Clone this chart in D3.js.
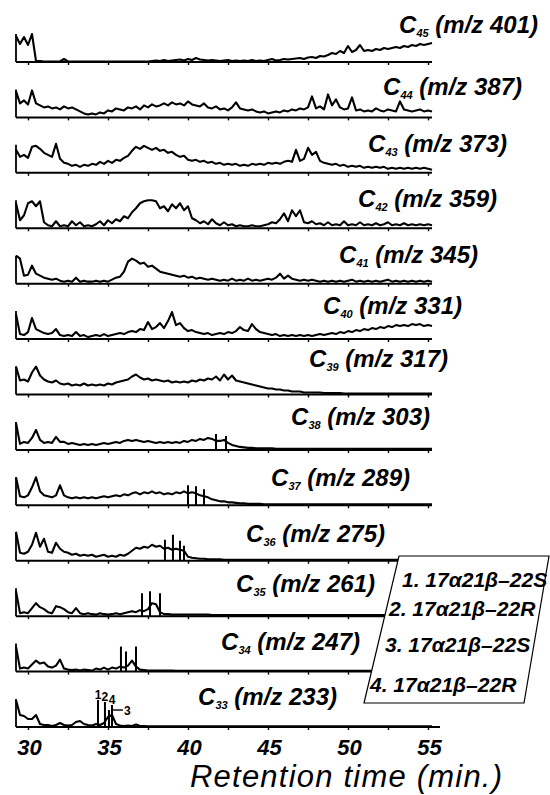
<!DOCTYPE html>
<html>
<head>
<meta charset="utf-8">
<script src="https://cdn.jsdelivr.net/npm/d3@7/dist/d3.min.js"></script>
<style>
  body { margin: 0; background: #fff; }
  text { font-family: "Liberation Sans", Arial, Helvetica, sans-serif; fill: #000; }
</style>
</head>
<body>
<script>
// Panels, top to bottom
var carbons = [45, 44, 43, 42, 41, 40, 39, 38, 37, 36, 35, 34, 33];
var mzValues = [401, 387, 373, 359, 345, 331, 317, 303, 289, 275, 261, 247, 233];

// Sampling grid of the traces (min)
var tStart = 29.25;
var tStep = 0.25;

// Tick values / labels of the retention time axis
var tickValues = [30, 32.5, 35, 37.5, 40, 42.5, 45, 47.5, 50, 52.5, 55];
var tickLabels = [30, 35, 40, 45, 50, 55];

// Intensity (relative units, 0-30)
var c45 = [26,18,25,17,28,1,1,0.5,0.5,0.5,0.5,0.5,3,0.5,0.5,0.5,0.5,0.5,0.5,0.5,
  0.5,0.5,0.5,0.5,0.5,0.5,0.5,0.5,0.5,0.5,0.5,0.5,0.5,0.5,1,1.5,1,2,1,1.5,
  2,2.5,1.5,3,2,4,2.5,2,1.5,2,1.5,1,1.5,2,1,1.5,1,1.5,1,2,
  1,1.5,1,2,3,1.5,2,3,2.5,3,3.5,4,3,4.5,5,4,6,5.5,7,9,
  8,11,9,16,10,12,17,11,12,11,13,12,14,13,14,15,14,16,15,17,
  16,18,17,18,19];
var c44 = [26,14,17,13,27,14,12,10,11,9,10,8,11,9,10,8,6,4,3,4,
  3,5,4,7,6,9,8,7,10,9,11,8,12,10,13,11,12,14,12,15,
  13,14,12,16,13,12,11,14,10,9,11,8,9,7,10,15,9,8,7,8,
  6,5,6,4,5,6,5,7,6,8,7,9,8,10,21,9,11,8,23,12,
  18,10,8,9,20,7,8,6,7,6,9,7,6,8,7,6,16,8,7,6,
  7,8,6,7,6];
var c43 = [23,16,18,15,26,27,24,20,18,16,29,14,10,9,7,8,6,8,7,9,
  8,11,9,12,10,13,12,15,17,22,26,24,27,25,23,25,22,23,20,21,
  18,16,17,13,12,13,11,12,10,11,9,10,8,9,8,9,7,8,7,9,
  8,9,8,10,9,10,9,11,12,11,23,12,14,25,18,21,12,10,9,8,
  9,7,8,6,7,6,7,5,6,5,6,5,6,4,5,4,5,4,5,4,
  5,4,5,4,3];
var c42 = [25,8,13,25,27,22,27,6,3,2,7,2,3,2,7,3,6,2,3,2,
  4,7,3,8,5,9,7,12,10,16,20,25,27,28,28,27,20,22,17,24,
  20,25,18,22,10,8,5,7,4,9,5,3,6,3,4,2,3,2,2,3,
  2,2,3,4,6,5,9,15,7,18,12,18,6,5,7,4,5,3,6,3,
  4,3,7,3,4,3,6,3,4,3,5,3,4,6,3,4,3,5,3,4,
  3,4,3,4,3];
var c41 = [28,25,8,9,18,10,8,6,5,4,5,3,2,3,2,6,2,3,2,2,
  3,2,3,2,4,6,7,12,22,25,23,20,21,17,18,15,12,11,10,9,
  8,7,8,6,7,5,6,5,4,5,4,3,4,3,5,3,4,3,5,3,
  4,3,4,5,4,6,10,5,8,5,4,3,4,3,4,3,2,3,2,3,
  2,3,2,3,4,2,3,2,3,2,3,2,3,4,2,3,2,3,2,3,
  2,3,2,3,2];
var c40 = [25,5,4,7,21,10,8,6,5,6,10,4,3,4,3,7,3,4,2,3,
  4,3,5,3,4,5,6,5,7,8,7,10,9,17,10,12,16,11,18,27,
  14,16,11,8,9,7,6,5,6,4,5,6,5,7,6,8,12,9,8,15,
  10,7,6,5,4,5,3,4,3,4,3,4,3,4,3,4,5,4,5,6,
  5,7,6,8,7,9,8,10,9,11,10,12,11,13,12,14,13,14,13,15,
  14,15,13,14,13];
var c39 = [28,14,15,13,22,28,19,15,13,12,14,11,10,11,9,10,9,11,9,10,
  9,10,9,11,10,12,13,14,15,18,20,17,15,16,14,15,14,13,14,12,
  13,12,13,12,14,13,15,14,16,15,18,14,20,15,19,14,13,12,11,10,
  9,8,7,6,6,5,5,4,4,3,3,3,2,2,2,2,2,1.5,1.5,1.5,
  1.5,1.5,1,1,1,1,1,1,1,1,1,1,1,1,1,1,1,1,1,1,
  1,1,1,1,1];
var c38 = [27,6,8,7,12,20,10,7,8,7,13,8,8,6,7,6,5,6,5,6,
  5,6,7,6,7,8,7,9,10,9,10,9,8,9,8,7,8,7,8,7,
  8,7,9,8,10,9,11,10,12,11,9,9,10,7,5,4,3,2.5,2,2,
  1.5,1.5,1.5,1.5,1.5,1,1,1,1,1,1,1,1,1,1,1,1,1,1,1,
  1,1,1,1,1,1,1,1,1,1,1,1,1,1,1,1,1,1,1,1,
  1,1,1,1,1];
var c37 = [28,9,8,10,18,28,14,10,9,8,10,20,10,8,7,8,7,8,7,8,
  7,8,9,8,9,10,9,11,10,12,13,11,13,12,14,12,13,11,12,11,
  13,12,14,12,13,12,10,9,8,6,5,4,4,3,3,2.5,2,2,1.5,1.5,
  1.5,1.5,1,1,1,1,1,1,1,1,1,1,1,1,1,1,1,1,1,1,
  1,1,1,1,1,1,1,1,1,1,1,1,1,1,1,1,1,1,1,1,
  1,1,1,1,1];
var c36 = [29,8,7,9,16,28,14,22,9,8,18,12,9,8,6,7,5,6,5,6,
  4,5,6,4,5,4,6,5,7,10,13,12,14,13,16,14,15,12,13,11,
  12,11,10,4,3,2.5,2,2,1.5,1.5,1.5,1.5,1,1,1,1,1,1,1,1,
  1,1,1,1,1,1,1,1,1,1,1,1,1,1,1,1,1,1,1,1,
  1,1,1,1,1,1,1,1,1,1,1,1,1,1,1,1,1,1,1,1,
  1,1,1,1,1];
var c35 = [25,3,4,3,8,13,9,7,4,3,10,9,7,4,3,8,3,2,3,2,
  1.5,3,2,1.5,2,3,2,3,4,5,4,6,5,7,13,12,4,2,2,1.5,
  1.5,1.5,1.5,1.5,1.5,1.5,1.5,1.5,1.5,1,1,1,1,1,1,1,1,1,1,1,
  1,1,1,1,1,1,1,1,1,1,1,1,1,1,1,1,1,1,1,1,
  1,1,1,1,1,1,1,1,1,1,1,1,1,1,1,1,1,1,1,1,
  1,1,1,1,1];
var c34 = [25,3,4,3,7,11,8,9,5,4,6,12,3,2,1.5,2,1,2,1.5,1,
  3,2,4,2,4,3,5,4,6,11,5,2,1.5,1,1,1,1,1,1,1,
  0.8,0.8,0.8,0.8,0.8,0.8,0.8,0.8,0.8,0.8,0.8,0.8,0.8,0.8,0.8,0.8,0.8,0.8,0.8,0.8,
  0.8,0.8,0.8,0.8,0.8,0.8,0.8,0.8,0.8,0.8,0.8,0.8,0.8,0.8,0.8,0.8,0.8,0.8,0.8,0.8,
  0.8,0.8,0.8,0.8,0.8,0.8,0.8,0.8,0.8,0.8,0.8,0.8,0.8,0.8,0.8,0.8,0.8,0.8,0.8,0.8,
  0.8,0.8,0.8,0.8,0.8];
var c33 = [27,12,11,8,8,12,3,2,2,1,2,4,2,1.5,2,5,6,3,2,1.5,
  3,2,4,10,12,3,1.5,1,1.5,1,2.5,1,1,0.8,0.8,0.8,0.8,0.8,0.8,0.8,
  0.8,0.8,0.8,0.8,0.8,0.8,0.8,0.8,0.8,0.8,0.8,0.8,0.8,0.8,0.8,0.8,0.8,0.8,0.8,0.8,
  0.8,0.8,0.8,0.8,0.8,0.8,0.8,0.8,0.8,0.8,0.8,0.8,0.8,0.8,0.8,0.8,0.8,0.8,0.8,0.8,
  0.8,0.8,0.8,0.8,0.8,0.8,0.8,0.8,0.8,0.8,0.8,0.8,0.8,0.8,0.8,0.8,0.8,0.8,0.8,0.8,
  0.8,0.8,0.8,0.8,0.8];
var traces = [c45, c44, c43, c42, c41, c40, c39, c38, c37, c36, c35, c34, c33];

// Sharp peaks [retention time, height]
var peaks38 = [[41.75, 16], [42.375, 14]];
var peaks37 = [[40.0, 20], [40.5, 19], [41.0, 16]];
var peaks36 = [[38.56, 21], [39.06, 26], [39.5, 20], [39.75, 15]];
var peaks35 = [[37.125, 23], [37.625, 25], [38.25, 23]];
var peaks34 = [[35.81, 25], [36.125, 20], [36.75, 25]];
var peaks33 = [[34.375, 27], [34.81, 25], [35.25, 22], [35.06, 17]];
var peakLabels33 = ["1", "2", "4", "3"];
var peakSets = { 38: peaks38, 37: peaks37, 36: peaks36, 35: peaks35, 34: peaks34, 33: peaks33 };

// Legend entries
var legendItems = ["1. 17\u03b121\u03b2\u201322S", "2. 17\u03b121\u03b2\u201322R",
  "3. 17\u03b121\u03b2\u201322S", "4. 17\u03b121\u03b2\u201322R"];

// ---- layout ----
var width = 550, height = 795;
var labelRight = [538, 522, 507, 497, 478, 462, 448, 430, 410, 385, 375, 360, 337];
var labelBase = [33, 95, 152, 207, 263, 314, 367, 425, 486, 542, 592, 650, 705];
var legendBox = [[399, 556], [549, 556], [524, 703], [364, 703]];
var legendPos = [[402, 587], [389, 616], [385, 652], [370, 692]];

var svg = d3.select("body").append("svg")
  .attr("width", width)
  .attr("height", height);

var xScale = d3.scaleLinear().domain([30, 55]).range([28, 428]);
var panelY = d3.scalePoint().domain(carbons).range([62, 727]);
var yScale = d3.scaleLinear().domain([0, 30]).range([0, -30]);

var traceLine = d3.line()
  .x((d, i) => xScale(tStart + i * tStep))
  .y(d => yScale(d));

traces.forEach(function(vals, p) {
  var c = carbons[p];
  var last = p === traces.length - 1;
  var g = svg.append("g").attr("transform", `translate(0, ${panelY(c)})`);
  var tEnd = tStart + (vals.length - 1) * tStep;

  // ticks along the baseline
  var axis = d3.axisBottom(xScale).tickValues(tickValues).tickSize(3).tickSizeOuter(0)
    .tickFormat(d => (last && tickLabels.indexOf(d) >= 0) ? d : "");
  var ag = g.append("g").call(axis);
  ag.select(".domain").remove();
  ag.selectAll(".tick line").attr("stroke", "#000").attr("stroke-width", 1.4);
  ag.selectAll(".tick text")
    .attr("y", 28).attr("dy", 0).attr("dx", 1)
    .style("font-size", "22px").style("font-weight", "bold").style("font-style", "italic");

  // baseline and left edge
  g.append("line")
    .attr("x1", xScale(tStart)).attr("x2", last ? xScale(55.75) : xScale(tEnd))
    .attr("y1", yScale(0)).attr("y2", yScale(0))
    .attr("stroke", "#000").attr("stroke-width", 2);
  g.append("line")
    .attr("x1", xScale(tStart)).attr("x2", xScale(tStart))
    .attr("y1", yScale(0)).attr("y2", yScale(28))
    .attr("stroke", "#000").attr("stroke-width", 1.8);

  // trace
  g.append("path")
    .datum(vals)
    .attr("d", traceLine)
    .attr("fill", "none")
    .attr("stroke", "#000")
    .attr("stroke-width", 2.1)
    .attr("stroke-linejoin", "round");

  // sharp peaks
  var pk = peakSets[c];
  if (pk) {
    g.selectAll(".peak").data(pk).enter().append("line")
      .attr("x1", d => xScale(d[0])).attr("x2", d => xScale(d[0]))
      .attr("y1", yScale(0)).attr("y2", d => yScale(d[1]))
      .attr("stroke", "#000").attr("stroke-width", 2);
  }

  // panel label
  var lbl = svg.append("text")
    .attr("x", labelRight[p]).attr("y", labelBase[p])
    .attr("text-anchor", "end")
    .style("font-size", "24px").style("font-weight", "bold").style("font-style", "italic");
  lbl.append("tspan").text("C");
  lbl.append("tspan").attr("dy", 4).style("font-size", "11px").text(c);
  lbl.append("tspan").attr("dy", -4).text(" (m/z " + mzValues[p] + ")");
});

// peak numbers in the C33 panel
var g33 = svg.append("g").attr("transform", `translate(0, ${panelY(33)})`);
peaks33.forEach(function(d, i) {
  if (peakLabels33[i] === "3") {
    g33.append("line")
      .attr("x1", xScale(d[0]) + 2).attr("x2", xScale(d[0]) + 14)
      .attr("y1", yScale(d[1])).attr("y2", yScale(d[1]))
      .attr("stroke", "#000").attr("stroke-width", 1.4);
    g33.append("text")
      .attr("x", xScale(d[0]) + 15).attr("y", yScale(d[1]) + 5)
      .style("font-size", "12px").style("font-weight", "bold")
      .text(peakLabels33[i]);
  } else {
    g33.append("text")
      .attr("x", xScale(d[0])).attr("y", yScale(d[1]) - 1)
      .attr("text-anchor", "middle")
      .style("font-size", "12px").style("font-weight", "bold")
      .text(peakLabels33[i]);
  }
});

// legend box
svg.append("polygon")
  .attr("points", legendBox.map(p => p.join(",")).join(" "))
  .attr("fill", "#fff").attr("stroke", "#000").attr("stroke-width", 1.2);

svg.selectAll(".legend").data(legendItems).enter().append("text")
  .attr("x", (d, i) => legendPos[i][0]).attr("y", (d, i) => legendPos[i][1])
  .style("font-size", "21px").style("font-weight", "bold").style("font-style", "italic")
  .text(d => d);

// axis title
svg.append("text")
  .attr("x", 190).attr("y", 787)
  .attr("textLength", 312).attr("lengthAdjust", "spacing")
  .style("font-size", "31px").style("font-style", "italic")
  .text("Retention time (min.)");
</script>
</body>
</html>
